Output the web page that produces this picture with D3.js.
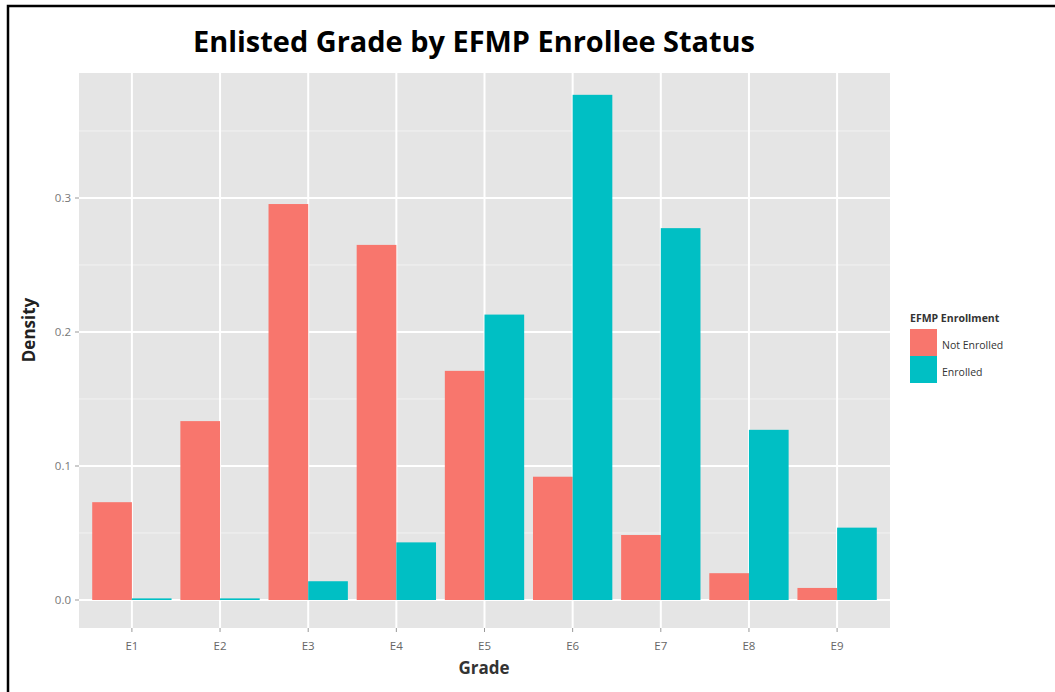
<!DOCTYPE html>
<html><head><meta charset="utf-8">
<script src="https://cdn.jsdelivr.net/npm/d3@7"></script>
<style>body{margin:0;background:#fff}svg{display:block}</style>
</head><body>
<script>
const grades = ["E1","E2","E3","E4","E5","E6","E7","E8","E9"];
const groups = ["Not Enrolled","Enrolled"];
const notEnrolled = [0.073,0.1335,0.2955,0.265,0.171,0.092,0.0485,0.020,0.009];
const enrolled = [0.0012,0.0012,0.014,0.043,0.213,0.377,0.2775,0.127,0.054];
const yTicks = [0.0,0.1,0.2,0.3];
const yMinor = [0.05,0.15,0.25,0.35];
const colors = ["#F8766D","#00BFC4"];
const title = "Enlisted Grade by EFMP Enrollee Status";

const W=1055,H=692;
const svg=d3.select("body").append("svg").attr("width",W).attr("height",H);
svg.append("rect").attr("x",8).attr("y",6).attr("width",W).attr("height",H).attr("fill","none").attr("stroke","#000").attr("stroke-width",2.5);

const pL=79,pR=890,pT=73,pB=628;
const y=d3.scaleLinear().domain([0,0.1]).range([600,466]);
const xc=d3.scalePoint().domain(grades).range([pL,pR]).padding(0.6);
const step=xc.step();
const xs=d3.scaleBand().domain(groups).range([-0.45*step,0.45*step]);

svg.append("rect").attr("x",pL).attr("y",pT).attr("width",pR-pL).attr("height",pB-pT).attr("fill","#E5E5E5");
const g=svg.append("g");
yMinor.forEach(v=>g.append("line").attr("x1",pL).attr("x2",pR).attr("y1",y(v)).attr("y2",y(v)).attr("stroke","#F2F2F2").attr("stroke-width",1));
grades.forEach(v=>g.append("line").attr("x1",xc(v)).attr("x2",xc(v)).attr("y1",pT).attr("y2",pB).attr("stroke","#FFFFFF").attr("stroke-width",2));
yTicks.forEach(v=>g.append("line").attr("x1",pL).attr("x2",pR).attr("y1",y(v)).attr("y2",y(v)).attr("stroke","#FFFFFF").attr("stroke-width",2));

const series=[notEnrolled,enrolled];
series.forEach((arr,si)=>{
  svg.append("g").selectAll("rect").data(grades).join("rect")
    .attr("x",(d)=>xc(d)+xs(groups[si]))
    .attr("width",xs.bandwidth())
    .attr("y",(d,i)=>y(arr[i]))
    .attr("height",(d,i)=>y(0)-y(arr[i]))
    .attr("fill",colors[si]);
});

const ya=svg.append("g");
yTicks.forEach(v=>{
  ya.append("line").attr("x1",pL-4).attr("x2",pL).attr("y1",y(v)).attr("y2",y(v)).attr("stroke","#999").attr("stroke-width",1);
  ya.append("text").attr("x",pL-8).attr("y",y(v)).attr("dy","0.35em").attr("text-anchor","end")
    .attr("font-family","Open Sans, sans-serif").attr("font-size",11.5).attr("fill","#777").text(v.toFixed(1));
});
grades.forEach(v=>{
  ya.append("line").attr("x1",xc(v)).attr("x2",xc(v)).attr("y1",pB).attr("y2",pB+4).attr("stroke","#999");
  ya.append("text").attr("x",xc(v)).attr("y",650).attr("text-anchor","middle")
    .attr("font-family","Open Sans, sans-serif").attr("font-size",11.5).attr("fill","#666").text(v);
});
svg.append("text").attr("x",484).attr("y",674).attr("text-anchor","middle")
  .attr("font-family","Open Sans, sans-serif").attr("font-weight","bold").attr("font-size",17).attr("fill","#333").text("Grade");
svg.append("text").attr("transform","translate(35,330) rotate(-90)").attr("text-anchor","middle")
  .attr("font-family","Open Sans, sans-serif").attr("font-weight","bold").attr("font-size",17).attr("fill","#222").text("Density");

svg.append("text").attr("x",474).attr("y",52).attr("text-anchor","middle")
  .attr("font-family","Open Sans, sans-serif").attr("font-weight","bold").attr("font-size",29)
  .attr("textLength",562).attr("lengthAdjust","spacingAndGlyphs").attr("fill","#000").text(title);

const lg=svg.append("g");
lg.append("text").attr("x",910).attr("y",322).attr("font-family","Open Sans, sans-serif").attr("font-weight","bold").attr("font-size",10.5).attr("fill","#333").text("EFMP Enrollment");
groups.forEach((k,i)=>{
  lg.append("rect").attr("x",910).attr("y",329+i*27).attr("width",27).attr("height",27).attr("fill",colors[i]);
  lg.append("text").attr("x",942).attr("y",345+i*27).attr("dy","0.35em").attr("font-family","Open Sans, sans-serif").attr("font-size",10.5).attr("fill","#333").text(k);
});
</script>
</body></html>
